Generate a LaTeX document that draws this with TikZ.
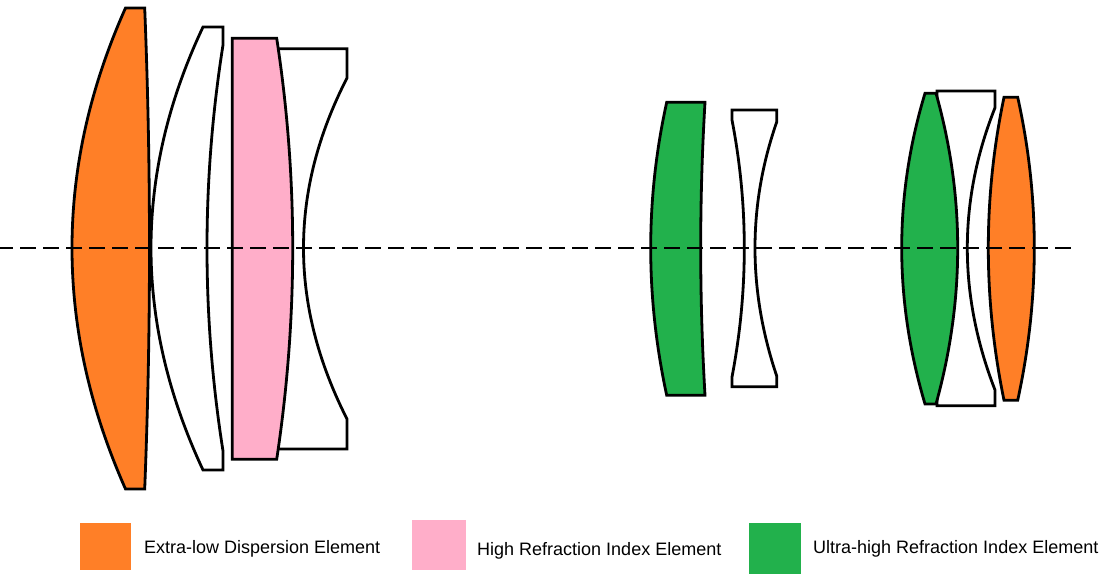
\documentclass[tikz,border=0pt]{standalone}
\usepackage{fontspec}
\setmainfont{Liberation Sans}
\usepackage{tikz}
\usetikzlibrary{calc}
\definecolor{lensorange}{HTML}{FF7F27}
\definecolor{lenspink}{HTML}{FFAEC9}
\definecolor{lensgreen}{HTML}{22B14C}
% Lens face: bowed curve from #1 through apex #2 to #3
\newcommand{\lensface}[3]{.. controls ($1.3333*(#2)-0.3333*(#3)$) and ($1.3333*(#2)-0.3333*(#1)$) .. (#3)}

\begin{document}
\begin{tikzpicture}[
    x=1pt, y=-1pt,
    lens/.style={draw=black, line width=2.8pt, line join=miter, fill=white},
    swatch/.style={minimum height=47pt, minimum width=51pt, inner sep=0pt},
    legendlabel/.style={anchor=west, inner sep=0pt, font=\fontsize{18}{20}\selectfont}
]
    \useasboundingbox (0, 0) rectangle (1108, 588);

    % Front group
    \draw[lens, fill=lensorange] (125.5, 8) -- (144.7, 8) \lensface{144.7, 8}{149.5, 248}{144.7, 489}
        -- (125.5, 489) \lensface{125.5, 489}{72, 248}{125.5, 8} -- cycle;
    \draw[lens] (203, 27) -- (223, 27) -- (223, 45) \lensface{223, 45}{207, 248}{223, 451}
        -- (223, 470) -- (203, 470) \lensface{203, 470}{151, 248}{203, 27} -- cycle;
    \draw[lens] (278, 48.7) -- (347, 48.7) -- (347, 78) \lensface{347, 78}{303.5, 248}{347, 419}
        -- (347, 449) -- (278, 449) -- cycle;
    \draw[lens, fill=lenspink] (232.3, 38.3) -- (276.7, 38.3) \lensface{276.7, 38.3}{292.7, 248}{276.7, 459.3}
        -- (232.3, 459.3) -- cycle;

    % Middle group
    \draw[lens, fill=lensgreen] (666.7, 102.3) -- (705, 102.3) \lensface{705, 102.3}{700.7, 248}{705, 395.3}
        -- (666.7, 395.3) \lensface{666.7, 395.3}{650.7, 248}{666.7, 102.3} -- cycle;
    \draw[lens] (732, 110) -- (776.7, 110) -- (776.7, 122) \lensface{776.7, 122}{755, 248}{776.7, 376}
        -- (776.7, 386.7) -- (732, 386.7) -- (732, 377) \lensface{732, 377}{744.3, 248}{732, 120} -- cycle;

    % Rear group
    \draw[lens] (937, 91) -- (995, 91) -- (995, 107.7) \lensface{995, 107.7}{967.3, 248}{995, 390}
        -- (995, 405.7) -- (937, 405.7) -- cycle;
    \draw[lens, fill=lensgreen] (925, 93.3) -- (936, 93.3) \lensface{936, 93.3}{957.7, 248}{936, 404}
        -- (925, 404) \lensface{925, 404}{901.7, 248}{925, 93.3} -- cycle;
    \draw[lens, fill=lensorange] (1004, 97.3) -- (1017.7, 97.3) \lensface{1017.7, 97.3}{1034.3, 248}{1017.7, 400.3}
        -- (1004, 400.3) \lensface{1004, 400.3}{988.3, 248}{1004, 97.3} -- cycle;

    % Optical axis
    \coordinate (axisleft) at (0, 248);
    \coordinate (axisright) at (1072, 248);
    \draw[line width=1.3pt, dash pattern=on 16pt off 7pt, dash phase=3pt] (axisleft) -- (axisright);

    % Legend
    \node[swatch, fill=lensorange] (orangekey) at (105.5, 546.5) {};
    \node[swatch, fill=lenspink, minimum width=54pt, minimum height=50pt] (pinkkey) at (439, 545) {};
    \node[swatch, fill=lensgreen, minimum width=52pt, minimum height=51pt] (greenkey) at (775, 548.5) {};
    \node[legendlabel] (orangelabel) at (144, 549) {Extra-low Dispersion Element};
    \node[legendlabel] (pinklabel) at (477, 551) {High Refraction Index Element};
    \node[legendlabel] (greenlabel) at (813, 549) {Ultra-high Refraction Index Element};

\end{tikzpicture}
\end{document}
